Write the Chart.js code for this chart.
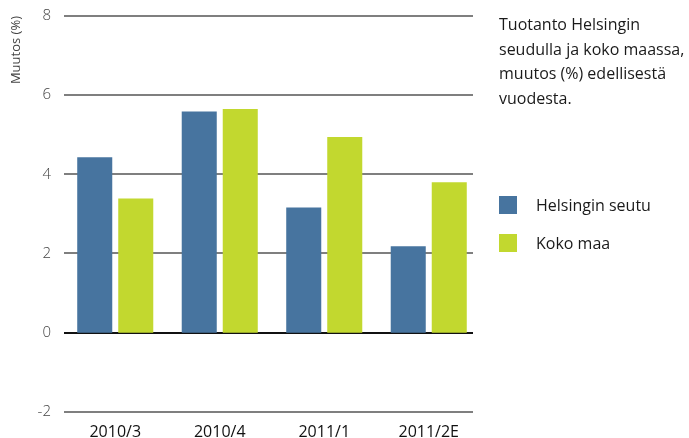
<!DOCTYPE html>
<html>
<head>
<meta charset="utf-8">
<script src="https://cdn.jsdelivr.net/npm/chart.js@4/dist/chart.umd.min.js"></script>
<style>
  body { margin: 0; background: #fff; font-family: "Open Sans", sans-serif; }
  #wrap { position: relative; width: 689px; height: 438px; }
  #otsikko { position: absolute; left: 499px; top: 12px; font-size: 16px; line-height: 24.5px; color: #1a1a1a; }
  #selite { position: absolute; left: 499px; top: 195px; font-size: 16px; color: #1a1a1a; }
  .rivi { display: flex; align-items: center; height: 19px; margin-bottom: 19px; }
  .laatikko { width: 18px; height: 18px; margin-right: 19px; }
</style>
</head>
<body>
<div id="wrap">
  <canvas id="kaavio" width="689" height="438"></canvas>
  <div id="otsikko">Tuotanto Helsingin<br>seudulla ja koko maassa,<br>muutos (%) edellisestä<br>vuodesta.</div>
  <div id="selite"></div>
</div>
<script>
// data
const kaudet = ['2010/3', '2010/4', '2011/1', '2011/2E'];
const helsinginSeutu = [4.43, 5.59, 3.16, 2.18];
const kokoMaa = [3.39, 5.65, 4.94, 3.80];
const sarjaNimet = ['Helsingin seutu', 'Koko maa'];
const varit = ['#47749f', '#c2d82f'];
const yTikit = [-2, 0, 2, 4, 6, 8];

const fontti = '"Open Sans", sans-serif';

// vaakaviivat, nollaviiva mustana
const ruudukko = {
  id: 'ruudukko',
  beforeDatasetsDraw(chart) {
    const ctx = chart.ctx;
    const y = chart.scales.y;
    const a = chart.chartArea;
    ctx.save();
    yTikit.forEach(t => {
      const py = Math.round(y.getPixelForValue(t));
      ctx.beginPath();
      ctx.strokeStyle = t === 0 ? '#111' : '#555';
      ctx.lineWidth = t === 0 ? 2 : 1.5;
      ctx.moveTo(a.left + 1, py);
      ctx.lineTo(a.right - 8, py);
      ctx.stroke();
    });
    ctx.restore();
  }
};

const kaavio = new Chart(document.getElementById('kaavio').getContext('2d'), {
  type: 'bar',
  data: {
    labels: kaudet,
    datasets: [
      { label: sarjaNimet[0], data: helsinginSeutu, backgroundColor: varit[0] },
      { label: sarjaNimet[1], data: kokoMaa, backgroundColor: varit[1] }
    ]
  },
  options: {
    responsive: false,
    animation: false,
    layout: { padding: { top: 16, right: 208, bottom: -7, left: 0 } },
    datasets: { bar: { categoryPercentage: 0.785, barPercentage: 0.854 } },
    plugins: { legend: { display: false }, tooltip: { enabled: false } },
    scales: {
      x: {
        grid: { display: false },
        border: { display: false },
        ticks: { color: '#111', font: { family: fontti, size: 16 }, padding: 3, maxRotation: 0 }
      },
      y: {
        min: -2,
        max: 8,
        afterFit(scale) { scale.width = 63; },
        afterBuildTicks(scale) { scale.ticks = yTikit.map(v => ({ value: v })); },
        grid: { display: false },
        border: { display: false },
        ticks: { color: '#444', font: { family: fontti, size: 15, weight: 300 }, padding: 4 },
        title: {
          display: true,
          text: 'Muutos (%)',
          align: 'end',
          color: '#444',
          font: { family: fontti, size: 13 },
          padding: { top: 8, bottom: 0 }
        }
      }
    }
  },
  plugins: [ruudukko]
});

// selite
const selite = document.getElementById('selite');
sarjaNimet.forEach((n, i) => {
  const r = document.createElement('div');
  r.className = 'rivi';
  r.innerHTML = '<span class="laatikko" style="background:' + varit[i] + '"></span>' + n;
  selite.appendChild(r);
});
</script>
</body>
</html>
